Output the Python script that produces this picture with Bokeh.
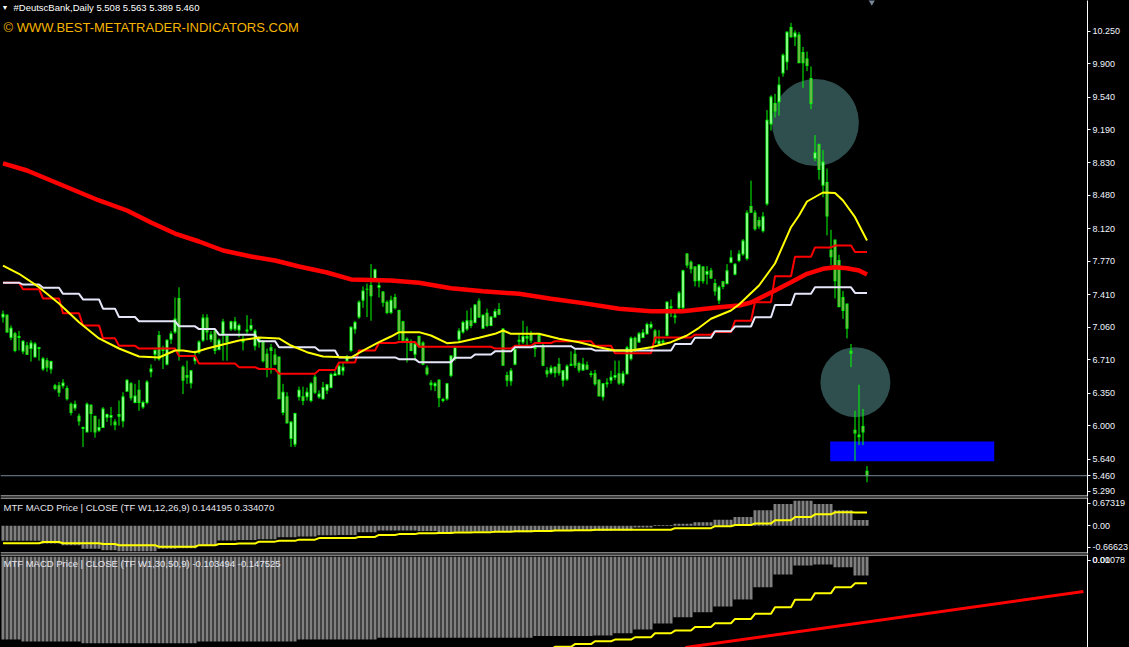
from bokeh.plotting import figure
from bokeh.layouts import column
from bokeh.models import Range1d, FixedTicker, Span, Label, LinearAxis, ColumnDataSource
from bokeh.embed import file_html
from bokeh.resources import INLINE

# ---------------- data ----------------
symbol = "#DeutscBank,Daily"

opens = [
    7.17, 7.19, 6.95, 6.99, 6.96, 6.80, 6.86, 6.83, 6.74, 6.84,
    6.61, 6.70, 6.61, 6.43, 6.43, 6.43, 6.40, 6.23, 6.19, 6.10,
    5.98, 5.93, 6.22, 6.10, 5.95, 5.98, 6.09, 6.09, 6.04, 6.12,
    6.05, 6.37, 6.45, 6.25, 6.38, 6.20, 6.25, 6.58, 6.77, 6.97,
    6.82, 6.66, 6.93, 7.01, 7.37, 6.63, 6.54, 6.46, 6.70, 6.79,
    6.92, 7.16, 6.93, 7.02, 6.82, 6.99, 6.96, 7.04, 7.04, 7.03,
    6.93, 7.02, 7.04, 6.86, 6.95, 6.90, 6.77, 6.84, 6.76, 6.74,
    6.14, 6.31, 5.86, 5.80, 6.31, 6.31, 6.31, 6.27, 6.52, 6.31,
    6.29, 6.38, 6.41, 6.54, 6.55, 6.59, 6.70, 6.81, 7.04, 7.17,
    7.35, 7.47, 7.51, 7.58, 7.49, 7.44, 7.33, 7.22, 7.38, 7.24,
    7.12, 6.93, 6.90, 6.77, 6.96, 6.89, 6.62, 6.46, 6.43, 6.49,
    6.27, 6.29, 6.54, 6.72, 6.93, 7.01, 7.04, 7.13, 7.11, 7.34,
    7.05, 7.21, 7.08, 7.17, 7.25, 7.04, 6.54, 6.48, 6.66, 6.92,
    6.90, 6.96, 6.99, 6.84, 6.97, 6.86, 6.59, 6.57, 6.63, 6.66,
    6.49, 6.50, 6.66, 6.77, 6.67, 6.60, 6.65, 6.55, 6.56, 6.49,
    6.31, 6.46, 6.49, 6.52, 6.56, 6.46, 6.56, 6.72, 6.94, 6.90,
    6.95, 6.99, 7.06, 7.02, 6.88, 6.90, 6.97, 7.27, 7.17, 7.27,
    7.27, 7.85, 7.76, 7.71, 7.56, 7.71, 7.63, 7.67, 7.53, 7.35,
    7.55, 7.53, 7.76, 7.63, 7.78, 7.85, 7.80, 8.36, 8.29, 8.21,
    8.10, 8.39, 9.25, 9.47, 9.49, 9.80, 9.92, 10.29, 10.19, 10.21,
    10.02, 9.95, 9.74, 8.88, 9.03, 8.59, 8.62, 7.89, 8.00, 7.78,
    7.38, 7.31, 6.80, 5.95, 5.90, 5.99, 5.508,
]
highs = [
    7.24, 7.20, 7.08, 7.01, 7.02, 6.92, 6.90, 6.92, 6.90, 6.85,
    6.74, 6.73, 6.70, 6.45, 6.47, 6.50, 6.43, 6.25, 6.27, 6.13,
    5.99, 6.25, 6.23, 6.10, 6.07, 6.20, 6.13, 6.20, 6.07, 6.27,
    6.36, 6.50, 6.47, 6.45, 6.49, 6.27, 6.49, 6.66, 6.84, 7.02,
    6.86, 6.93, 7.02, 7.38, 7.49, 6.65, 6.70, 6.60, 6.81, 6.92,
    7.20, 7.20, 7.02, 7.04, 6.94, 7.15, 6.97, 7.13, 7.17, 7.10,
    6.97, 7.19, 7.15, 7.04, 6.95, 6.92, 6.83, 6.88, 6.83, 6.74,
    6.45, 6.36, 6.05, 6.14, 6.42, 6.42, 6.41, 6.47, 6.55, 6.38,
    6.47, 6.45, 6.57, 6.59, 6.66, 6.68, 6.76, 7.07, 7.13, 7.35,
    7.50, 7.53, 7.74, 7.69, 7.56, 7.45, 7.35, 7.40, 7.42, 7.25,
    7.13, 6.95, 6.93, 6.90, 6.97, 6.91, 6.65, 6.49, 6.47, 6.50,
    6.30, 6.46, 6.76, 6.86, 7.05, 7.13, 7.24, 7.27, 7.31, 7.37,
    7.20, 7.26, 7.18, 7.26, 7.32, 7.05, 6.58, 6.62, 6.83, 6.98,
    7.13, 7.07, 7.02, 6.90, 7.00, 6.88, 6.63, 6.65, 6.64, 6.73,
    6.60, 6.66, 6.80, 6.82, 6.69, 6.73, 6.69, 6.59, 6.60, 6.50,
    6.46, 6.51, 6.59, 6.70, 6.70, 6.59, 6.86, 6.96, 6.96, 7.01,
    7.04, 7.11, 7.12, 7.04, 7.03, 6.93, 7.34, 7.36, 7.23, 7.45,
    7.68, 7.86, 7.78, 7.72, 7.74, 7.72, 7.72, 7.70, 7.58, 7.51,
    7.56, 7.74, 7.89, 7.75, 7.89, 8.01, 8.32, 8.64, 8.32, 8.25,
    8.30, 9.40, 9.56, 9.575, 9.76, 10.01, 10.25, 10.34, 10.26, 10.24,
    10.08, 10.03, 9.87, 9.13, 9.04, 8.97, 8.77, 8.11, 8.00, 7.84,
    7.45, 7.31, 6.88, 6.16, 6.44, 6.18, 5.563,
]
lows = [
    7.11, 7.00, 6.92, 6.79, 6.81, 6.77, 6.76, 6.69, 6.74, 6.70,
    6.59, 6.58, 6.56, 6.38, 6.31, 6.40, 6.27, 6.11, 6.16, 6.00,
    5.77, 5.93, 5.93, 5.87, 5.93, 5.98, 6.04, 6.00, 5.95, 6.00,
    5.98, 6.37, 6.27, 6.24, 6.16, 6.18, 6.23, 6.52, 6.70, 6.70,
    6.61, 6.65, 6.88, 6.99, 6.70, 6.34, 6.45, 6.40, 6.66, 6.77,
    6.90, 6.92, 6.90, 6.77, 6.81, 6.70, 6.70, 7.02, 7.02, 6.95,
    6.81, 6.99, 7.02, 6.81, 6.84, 6.68, 6.52, 6.56, 6.65, 6.29,
    6.11, 6.02, 5.77, 5.77, 6.27, 6.22, 6.27, 6.25, 6.34, 6.29,
    6.28, 6.34, 6.40, 6.54, 6.54, 6.54, 6.68, 6.79, 6.99, 7.15,
    7.27, 7.17, 7.13, 7.55, 7.38, 7.28, 7.20, 7.20, 7.25, 6.92,
    6.91, 6.68, 6.80, 6.70, 6.84, 6.65, 6.54, 6.38, 6.37, 6.20,
    6.25, 6.27, 6.52, 6.70, 6.90, 6.99, 7.02, 7.05, 7.10, 7.16,
    7.04, 7.06, 7.07, 7.16, 7.19, 6.65, 6.42, 6.43, 6.65, 6.86,
    6.88, 6.86, 6.89, 6.74, 6.88, 6.64, 6.52, 6.55, 6.52, 6.54,
    6.42, 6.48, 6.64, 6.62, 6.57, 6.59, 6.60, 6.52, 6.43, 6.32,
    6.27, 6.41, 6.45, 6.49, 6.44, 6.43, 6.55, 6.70, 6.79, 6.89,
    6.94, 6.98, 7.04, 6.88, 6.87, 6.88, 6.96, 7.17, 7.10, 7.25,
    7.25, 7.70, 7.64, 7.50, 7.49, 7.53, 7.52, 7.58, 7.40, 7.31,
    7.47, 7.52, 7.75, 7.62, 7.76, 7.83, 7.78, 8.29, 8.10, 8.12,
    8.08, 8.37, 9.18, 9.32, 9.34, 9.76, 9.83, 10.18, 10.09, 9.91,
    9.64, 9.82, 9.41, 8.85, 8.65, 8.46, 8.05, 7.73, 7.37, 7.28,
    7.15, 6.94, 6.63, 5.62, 5.79, 5.79, 5.389,
]
closes = [
    7.20, 7.01, 7.05, 6.81, 6.95, 6.91, 6.77, 6.89, 6.88, 6.83,
    6.72, 6.63, 6.69, 6.40, 6.36, 6.46, 6.29, 6.14, 6.23, 6.05,
    5.97, 6.23, 6.13, 5.93, 5.98, 6.18, 6.12, 6.11, 6.01, 6.10,
    6.31, 6.49, 6.30, 6.32, 6.25, 6.25, 6.47, 6.61, 6.81, 6.72,
    6.81, 6.92, 6.99, 7.15, 6.81, 6.49, 6.52, 6.59, 6.74, 6.90,
    7.16, 7.01, 6.98, 6.81, 6.92, 7.12, 6.90, 7.12, 7.12, 7.08,
    6.90, 7.03, 7.08, 7.02, 6.90, 6.70, 6.61, 6.81, 6.66, 6.29,
    6.36, 6.03, 6.04, 6.13, 6.38, 6.27, 6.36, 6.45, 6.36, 6.34,
    6.41, 6.44, 6.55, 6.56, 6.64, 6.63, 6.74, 7.06, 7.11, 7.33,
    7.45, 7.47, 7.40, 7.68, 7.51, 7.33, 7.22, 7.35, 7.27, 7.02,
    6.92, 6.90, 6.81, 6.88, 6.86, 6.66, 6.56, 6.44, 6.45, 6.30,
    6.28, 6.45, 6.75, 6.84, 7.02, 7.11, 7.13, 7.08, 7.30, 7.17,
    7.19, 7.08, 7.17, 7.23, 7.20, 6.65, 6.49, 6.59, 6.82, 6.91,
    6.96, 6.94, 6.92, 6.83, 6.90, 6.65, 6.56, 6.62, 6.57, 6.57,
    6.59, 6.64, 6.65, 6.65, 6.60, 6.66, 6.61, 6.56, 6.45, 6.32,
    6.45, 6.45, 6.52, 6.54, 6.46, 6.56, 6.84, 6.94, 6.81, 6.99,
    7.00, 7.09, 7.09, 6.90, 6.91, 6.91, 7.33, 7.28, 7.18, 7.43,
    7.67, 7.73, 7.69, 7.56, 7.73, 7.56, 7.66, 7.59, 7.45, 7.49,
    7.50, 7.67, 7.81, 7.74, 7.85, 7.99, 8.29, 8.30, 8.12, 8.15,
    8.25, 9.29, 9.54, 9.39, 9.67, 9.99, 10.24, 10.19, 10.23, 9.91,
    9.91, 9.88, 9.47, 8.94, 8.76, 8.84, 8.26, 7.82, 7.56, 7.28,
    7.24, 7.05, 6.78, 5.92, 5.88, 5.93, 5.460,
]

# first daily bar of every week (weekly / MTF series hold one value per week)
week_start = [0, 5, 10, 15, 20, 25, 29, 34, 39, 44, 49, 54, 59, 64, 69, 74, 79, 84, 89, 94,
              99, 104, 109, 113, 118, 123, 128, 133, 138, 143, 148, 153, 158, 163, 168, 173,
              178, 183, 188, 193, 198, 203, 208, 213]
ma_red_weekly = [7.54, 7.47, 7.37, 7.21, 7.08, 6.94, 6.86, 6.83, 6.83, 6.75, 6.67, 6.67, 6.63,
                 6.61, 6.56, 6.56, 6.60, 6.68, 6.81, 6.89, 6.90, 6.85, 6.85, 6.85, 6.85, 6.83,
                 6.86, 6.89, 6.91, 6.91, 6.86, 6.78, 6.78, 6.95, 6.95, 6.98, 7.01, 7.13, 7.33,
                 7.61, 7.82, 7.92, 7.94, 7.87]
ma_white_weekly = [7.54, 7.52, 7.485, 7.42, 7.36, 7.26, 7.17, 7.125, 7.125, 7.07, 7.04, 6.98,
                   6.98, 6.91, 6.845, 6.845, 6.81, 6.735, 6.735, 6.735, 6.716, 6.683, 6.683,
                   6.731, 6.766, 6.80, 6.845, 6.856, 6.856, 6.828, 6.81, 6.81, 6.81, 6.81, 6.88,
                   6.946, 7.017, 7.068, 7.168, 7.30, 7.42, 7.49, 7.49, 7.43]
macd1_hist = [-0.38, -0.38, -0.45, -0.49, -0.58, -0.62, -0.64, -0.64, -0.58, -0.57, -0.51,
              -0.37, -0.36, -0.34, -0.29, -0.27, -0.24, -0.23, -0.16, -0.12, -0.12, -0.13,
              -0.16, -0.15, -0.14, -0.14, -0.16, -0.15, -0.13, -0.13, -0.13, -0.12, -0.04,
              0.02, 0.05, 0.09, 0.15, 0.22, 0.39, 0.55, 0.63, 0.55, 0.39, 0.144195]
macd1_signal = [-0.44, -0.44, -0.41, -0.44, -0.44, -0.46, -0.49, -0.49, -0.53, -0.53, -0.49,
                -0.46, -0.45, -0.40, -0.38, -0.35, -0.31, -0.31, -0.28, -0.23, -0.21, -0.19,
                -0.18, -0.17, -0.16, -0.15, -0.14, -0.13, -0.12, -0.11, -0.10, -0.10, -0.10,
                -0.10, -0.06, -0.06, -0.01, 0.02, 0.06, 0.14, 0.22, 0.29, 0.34, 0.334070]
macd2_hist = [-0.46, -0.47, -0.47, -0.47, -0.48, -0.48, -0.48, -0.48, -0.48, -0.48, -0.47,
              -0.47, -0.47, -0.47, -0.47, -0.46, -0.46, -0.46, -0.46, -0.45, -0.45, -0.45,
              -0.45, -0.45, -0.45, -0.45, -0.45, -0.44, -0.44, -0.44, -0.437, -0.425, -0.404,
              -0.37, -0.336, -0.308, -0.276, -0.237, -0.169, -0.098, -0.048, -0.043, -0.058,
              -0.103494]
macd2_signal = [-0.56, -0.56, -0.56, -0.56, -0.56, -0.56, -0.56, -0.56, -0.56, -0.56, -0.56,
                -0.56, -0.56, -0.56, -0.55, -0.55, -0.55, -0.55, -0.55, -0.55, -0.55, -0.54,
                -0.54, -0.54, -0.54, -0.54, -0.53, -0.515, -0.50, -0.485, -0.469, -0.46,
                -0.447, -0.425, -0.41, -0.39, -0.369, -0.345, -0.317, -0.28, -0.239, -0.202,
                -0.169, -0.147525]

# smooth moving averages, sampled at these bars
ma_slow_bar = [0, 6, 12, 18, 24, 31, 37, 43, 49, 55, 62, 68, 74, 81, 87, 97, 104, 112, 120, 129,
               137, 145, 154, 162, 170, 179, 184, 187, 193, 197, 201, 205, 208, 211, 214, 216]
ma_slow = [8.825, 8.749, 8.641, 8.534, 8.426, 8.318, 8.189, 8.070, 7.984, 7.887, 7.822, 7.779,
           7.715, 7.650, 7.575, 7.564, 7.539, 7.481, 7.448, 7.420, 7.367, 7.320, 7.259, 7.233,
           7.233, 7.276, 7.294, 7.327, 7.456, 7.545, 7.636, 7.690, 7.707, 7.696, 7.672, 7.628]
ma_fast_bar = [0, 4, 9, 14, 19, 24, 29, 34, 39, 43, 45, 48, 51, 56, 59, 64, 69, 72, 76, 80, 87,
               90, 94, 97, 99, 104, 107, 111, 114, 119, 123, 125, 127, 134, 139, 144, 149, 153,
               157, 162, 167, 171, 174, 177, 182, 184, 189, 193, 197, 199, 201, 205, 208, 210,
               213, 216]
ma_fast = [7.725, 7.636, 7.492, 7.316, 7.114, 6.939, 6.831, 6.745, 6.734, 6.809, 6.809, 6.791,
           6.831, 6.885, 6.917, 6.950, 6.939, 6.863, 6.791, 6.745, 6.734, 6.809, 6.899, 6.960,
           7.007, 7.007, 6.971, 6.888, 6.899, 6.946, 6.989, 7.025, 6.989, 6.989, 6.936, 6.899,
           6.845, 6.809, 6.809, 6.845, 6.899, 6.971, 7.054, 7.151, 7.240, 7.305, 7.510, 7.747,
           8.138, 8.264, 8.415, 8.512, 8.507, 8.426, 8.246, 7.995]

# chart objects drawn by the user
circle_bar = [203.1, 213.1]
circle_price = [9.266, 6.468]
zone_bars = (206.8, 247.8)
zone_prices = (5.615, 5.829)
trend_bars = [170.6, 270.1]
trend_vals = [-0.504, -0.193]
shift_bar = 217.2

price_ticks = [10.25, 9.90, 9.54, 9.19, 8.83, 8.48, 8.12, 7.77, 7.41, 7.06, 6.71, 6.35, 6.00, 5.64, 5.29]
macd1_tick_text = ["0.67319", "0.00", "-0.66623"]
macd2_tick_text = ["0.01078", "0.00"]

# ---------------- layout / style ----------------
FONT = "Liberation Sans"
FRAME_W = 1087
AXIS_W = 42
H_MAIN, H_M1, H_M2 = 496, 56, 93
BAR_PX, FIRST_BAR_PX = 4.0, 2.5
X_START = -FIRST_BAR_PX / BAR_PX
X_RANGE = (X_START, X_START + FRAME_W / BAR_PX)
Y_MAIN = (5.236, 10.581)
Y_M1 = (-0.700, 0.715)
Y_M2 = (-0.504, 0.0128)
LIME = "#00FF00"
BEAR_FILL = "#C88080"
AXIS_TXT = "#F0F4FF"

N = len(closes)
bars = list(range(N))
xr = Range1d(*X_RANGE)
PX_MAIN = (Y_MAIN[1] - Y_MAIN[0]) / H_MAIN     # one pixel, in price units


def expand(weekly):
    out = []
    for k, v in enumerate(weekly):
        end = week_start[k + 1] if k + 1 < len(week_start) else N
        out += [v] * (end - week_start[k])
    return out


def at_px(yr, h, from_top):
    """data value found `from_top` pixels below the top of a pane"""
    return yr[1] - from_top * (yr[1] - yr[0]) / h


def pane(h, yr, bottom_border):
    p = figure(frame_width=FRAME_W, frame_height=h, x_range=xr, y_range=Range1d(*yr),
               output_backend="svg", toolbar_location=None, tools="",
               x_axis_location=None, y_axis_location=None,
               min_border_left=0, min_border_top=0, min_border_bottom=bottom_border,
               min_border_right=AXIS_W, background_fill_color="black",
               border_fill_color="black", outline_line_color=None)
    p.grid.visible = False
    return p


def right_axis(p, ticks, texts):
    ax = LinearAxis(ticker=FixedTicker(ticks=ticks, minor_ticks=[]),
                    major_label_overrides={t: s for t, s in zip(ticks, texts)},
                    axis_line_color="white", major_tick_line_color="white",
                    major_tick_in=0, major_tick_out=3, minor_tick_line_color=None,
                    major_label_standoff=2, major_label_text_color=AXIS_TXT,
                    major_label_text_font=FONT, major_label_text_font_size="9px")
    p.add_layout(ax, "right")


def edge_line(p, yr, h, where):
    loc = at_px(yr, h, h - 0.5) if where == "bottom" else at_px(yr, h, 0.5)
    p.add_layout(Span(location=loc, dimension="width", line_color="white", line_width=1))


def title(p, h, text, x, from_top, size, color):
    p.add_layout(Label(x=x, y=h - from_top, x_units="screen", y_units="screen", text=text,
                       text_font=FONT, text_font_size=size, text_color=color,
                       text_baseline="middle", text_align="left"))


# ---------------- main price pane ----------------
p1 = pane(H_MAIN, Y_MAIN, 1)
main_ticks = price_ticks + [closes[-1]]
right_axis(p1, main_ticks, [f"{t:.3f}" for t in main_ticks])

p1.scatter(x=circle_bar[:1], y=circle_price[:1], size=87, marker="circle",
           fill_color="#2F4F4F", line_color=None)
p1.scatter(x=circle_bar[1:], y=circle_price[1:], size=70, marker="circle",
           fill_color="#2F4F4F", line_color=None)
p1.quad(left=[zone_bars[0]], right=[zone_bars[1]], bottom=[zone_prices[0]], top=[zone_prices[1]],
        fill_color="#0000FF", line_color=None)
p1.add_layout(Span(location=closes[-1], dimension="width", line_color="#778899", line_width=1))

# candles: lime wick, lime 3px body frame, 1px white / rose core
p1.segment(x0=bars, y0=lows, x1=bars, y1=highs, line_color=LIME, line_width=1)
body_top = [max(o, c) for o, c in zip(opens, closes)]
body_bot = [min(o, c) for o, c in zip(opens, closes)]
p1.vbar(x=bars, top=[t + 0.5 * PX_MAIN for t in body_top],
        bottom=[b - 0.5 * PX_MAIN for b in body_bot], width=0.75,
        fill_color=LIME, line_color=None)
for want_up, fill in ((True, "white"), (False, BEAR_FILL)):
    idx = [i for i in bars if (closes[i] >= opens[i]) == want_up
           and body_top[i] - body_bot[i] > 1.2 * PX_MAIN]
    src = ColumnDataSource(dict(x=idx,
                                top=[body_top[i] - 0.5 * PX_MAIN for i in idx],
                                bottom=[body_bot[i] + 0.5 * PX_MAIN for i in idx]))
    p1.vbar(x="x", top="top", bottom="bottom", width=0.25, source=src,
            fill_color=fill, line_color=None)

p1.line(ma_slow_bar, ma_slow, line_color="#FF0000", line_width=4.5)
p1.line(bars, expand(ma_red_weekly), line_color="#FF0000", line_width=2)
p1.line(bars, expand(ma_white_weekly), line_color="#E6E6FA", line_width=2)
p1.line(ma_fast_bar, ma_fast, line_color="#FFFF00", line_width=2)

p1.scatter(x=[shift_bar], y=[Y_MAIN[1]], size=9, marker="inverted_triangle",
           fill_color="#778899", line_color=None)

edge_line(p1, Y_MAIN, H_MAIN, "bottom")
title(p1, H_MAIN, "\u25BC", 1, 6.7, "7px", "white")
title(p1, H_MAIN, f"{symbol}  {opens[-1]:.3f} {highs[-1]:.3f} {lows[-1]:.3f} {closes[-1]:.3f}",
      13, 6.7, "9.5px", "white")
title(p1, H_MAIN, "\u00A9 WWW.BEST-METATRADER-INDICATORS.COM", 3, 27.2, "13px", "#F5B400")

# ---------------- MACD (12,26,9) pane ----------------
p2 = pane(H_M1, Y_M1, 1)
right_axis(p2, [at_px(Y_M1, H_M1, 5.5), 0.0, at_px(Y_M1, H_M1, 49.7)], macd1_tick_text)
p2.vbar(x=bars, top=expand(macd1_hist), bottom=0, width=0.75, fill_color="#808080", line_color=None)
p2.line(bars, expand(macd1_signal), line_color="#FFFF00", line_width=2)
edge_line(p2, Y_M1, H_M1, "top")
edge_line(p2, Y_M1, H_M1, "bottom")
title(p2, H_M1, f"MTF MACD Price | CLOSE  (TF W1,12,26,9) {macd1_hist[-1]:.6f} {macd1_signal[-1]:.6f}",
      3, 9.7, "9.5px", "#E6E6EE")

# ---------------- MACD (30,50,9) pane ----------------
p3 = pane(H_M2, Y_M2, 0)
right_axis(p3, [at_px(Y_M2, H_M2, 5.5), at_px(Y_M2, H_M2, 5.6)], macd2_tick_text)
p3.vbar(x=bars, top=0, bottom=expand(macd2_hist), width=0.75, fill_color="#808080", line_color=None)
p3.line(bars, expand(macd2_signal), line_color="#FFFF00", line_width=2)
p3.line(trend_bars, trend_vals, line_color="#FF0000", line_width=3)
edge_line(p3, Y_M2, H_M2, "top")
title(p3, H_M2, f"MTF MACD Price | CLOSE  (TF W1,30,50,9) {macd2_hist[-1]:.6f} {macd2_signal[-1]:.6f}",
      3, 9.3, "9.5px", "#E6E6EE")

kw = {}
try:
    from bokeh.models import GlobalInlineStyleSheet
    kw["stylesheets"] = [GlobalInlineStyleSheet(css="html, body { background-color: #000000; }")]
except Exception:
    pass

layout = column(p1, p2, p3, spacing=0, **kw)
open("out.html", "w").write(file_html(layout, INLINE))
